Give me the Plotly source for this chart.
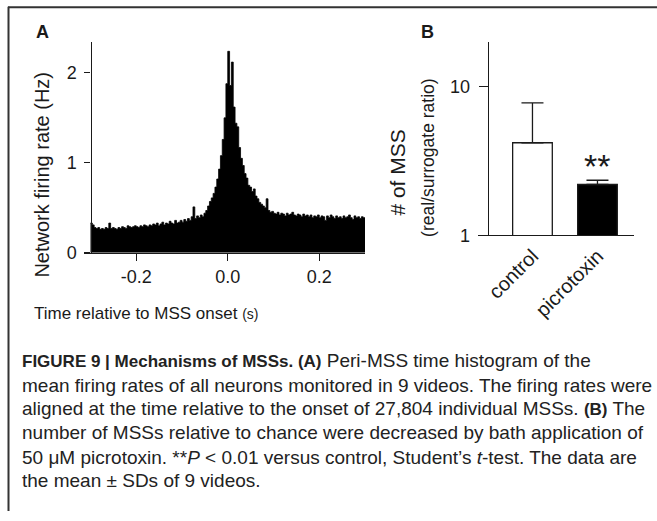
import plotly.graph_objects as go

W, H = 657, 521

# ---- Panel A: peri-MSS time histogram (4 ms bins from -0.3 s to 0.3 s) ----
bin_start = -0.3
bin_width = 0.004
firing_rate_hz = [
    0.33, 0.31, 0.28, 0.27, 0.28, 0.26, 0.27, 0.26, 0.28, 0.27,
    0.33, 0.27, 0.28, 0.27, 0.26, 0.28, 0.27, 0.29, 0.28, 0.27,
    0.30, 0.29, 0.28, 0.29, 0.30, 0.29, 0.28, 0.30, 0.29, 0.31,
    0.30, 0.29, 0.31, 0.30, 0.32, 0.31, 0.33, 0.30, 0.32, 0.34,
    0.31, 0.33, 0.32, 0.35, 0.33, 0.32, 0.36, 0.33, 0.34, 0.36,
    0.34, 0.37, 0.35, 0.38, 0.36, 0.40, 0.51, 0.38, 0.41, 0.39,
    0.42, 0.40, 0.44, 0.47, 0.52, 0.57, 0.61, 0.66, 0.73, 0.82,
    0.93, 1.08, 1.26, 1.50, 1.88, 2.24, 1.86, 2.12, 1.62, 1.44,
    1.40, 1.17, 1.05, 0.97, 0.88, 0.83, 0.75, 0.73, 0.68, 0.71,
    0.63, 0.60, 0.56, 0.54, 0.52, 0.50, 0.60, 0.47, 0.45, 0.46,
    0.44, 0.43, 0.45, 0.42, 0.44, 0.43, 0.41, 0.44, 0.42, 0.43,
    0.45, 0.42, 0.41, 0.43, 0.42, 0.40, 0.43, 0.41, 0.42, 0.40,
    0.42, 0.39, 0.41, 0.40, 0.42, 0.39, 0.41, 0.40, 0.36, 0.41,
    0.39, 0.42, 0.40, 0.38, 0.41, 0.39, 0.40, 0.38, 0.41, 0.39,
    0.40, 0.42, 0.39, 0.37, 0.41, 0.39, 0.40, 0.38, 0.40, 0.39,
]
a_xticks = [-0.2, 0.0, 0.2]
a_xticklabels = ["-0.2", "0.0", "0.2"]
a_yticks = [0, 1, 2]

# ---- Panel B: number of MSS relative to surrogate ----
conditions = ["control", "picrotoxin"]
mss_ratio_mean = [4.2, 2.2]
mss_ratio_sd = [3.6, 0.15]
b_yticks = [1, 10]

INK = "#1a1a1a"
FONT = "Liberation Sans, Arial, sans-serif"

# histogram drawn as a filled step outline (bin edges, last bin closed)
n_bins = len(firing_rate_hz)
bin_edges = [bin_start + bin_width * i for i in range(n_bins + 1)]
step_y = firing_rate_hz + [firing_rate_hz[-1]]


def px(x):
    return x / W


def py(y):
    return 1 - y / H


fig = go.Figure()

fig.add_trace(go.Scatter(
    x=bin_edges, y=step_y, mode="lines", line=dict(shape="hv", color="black", width=0.8),
    fill="tozeroy", fillcolor="black",
    xaxis="x", yaxis="y", showlegend=False, hoverinfo="skip",
))

fig.add_trace(go.Bar(
    x=[0, 1], y=mss_ratio_mean, width=0.61,
    marker=dict(color=["white", "black"], line=dict(color=INK, width=1.3)),
    error_y=dict(type="data", array=mss_ratio_sd, arrayminus=[0, 0],
                 symmetric=False, width=11, thickness=1.3, color=INK),
    xaxis="x2", yaxis="y2", showlegend=False,
))

tickfont = dict(family=FONT, size=18, color=INK)

fig.update_layout(
    width=W, height=H,
    margin=dict(l=0, r=0, t=0, b=0),
    paper_bgcolor="white", plot_bgcolor="rgba(0,0,0,0)",
    xaxis=dict(
        domain=[px(84), px(365)], range=[-0.3142, 0.3], anchor="y",
        tickvals=a_xticks, ticktext=a_xticklabels,
        ticks="outside", ticklen=7, tickwidth=1.2, tickcolor=INK,
        showline=True, linecolor=INK, linewidth=1.3,
        showgrid=False, zeroline=False, tickfont=tickfont,
    ),
    yaxis=dict(
        domain=[py(257.7), py(42.7)], range=[0, 2.345],
        anchor="free", position=px(90.5),
        tickvals=a_yticks, ticks="outside", ticklen=6, tickwidth=1.2,
        tickcolor=INK, showline=True, linecolor=INK, linewidth=1.3,
        showgrid=False, zeroline=False, tickfont=tickfont,
        ticklabelstandoff=4,
    ),
    xaxis2=dict(
        domain=[px(478), px(634)], range=[-0.838, 1.562], anchor="y2",
        tickvals=[0, 1], ticktext=conditions, tickangle=-45, ticks="",
        showline=True, linecolor=INK, linewidth=1.3,
        showgrid=False, zeroline=False, tickfont=dict(family=FONT, size=20, color=INK),
    ),
    yaxis2=dict(
        domain=[py(240), py(43)], type="log", range=[0, 1.3],
        anchor="free", position=px(487.7),
        tickvals=b_yticks, ticktext=["1", "10"],
        ticks="outside", ticklen=9, tickwidth=1.2, tickcolor=INK,
        showline=True, linecolor=INK, linewidth=1.3,
        showgrid=False, zeroline=False, tickfont=tickfont,
        ticklabelstandoff=5,
    ),
)

ann = []
# panel letters
ann.append(dict(x=px(42), y=py(33), text="<b>A</b>", font=dict(family=FONT, size=18, color=INK)))
ann.append(dict(x=px(427), y=py(33), text="<b>B</b>", font=dict(family=FONT, size=18, color=INK)))
# axis titles
ann.append(dict(x=px(42), y=py(178), text="Network firing rate (Hz)", textangle=-90,
                font=dict(family=FONT, size=20, color=INK)))
ann.append(dict(x=px(146), y=py(320),
                text="Time relative to MSS onset <span style='font-size:14px'>(s)</span>",
                font=dict(family=FONT, size=17, color=INK)))
ann.append(dict(x=px(398), y=py(176), text="# of MSS", textangle=-90,
                font=dict(family=FONT, size=21, color=INK)))
ann.append(dict(x=px(428), y=py(161), text="(real/surrogate ratio)", textangle=-90,
                font=dict(family=FONT, size=17.5, color=INK)))
# significance marker
ann.append(dict(x=1, y=0.47, xref="x2", yref="y2", text="**",
                font=dict(family=FONT, size=34, color=INK)))

BOLD = "<span style='font-size:17px'><b>{}</b></span>"
caption = [
    BOLD.format("FIGURE 9 | Mechanisms of MSSs. (A)") + " Peri-MSS time histogram of the",
    "mean firing rates of all neurons monitored in 9 videos. The firing rates were",
    "aligned at the time relative to the onset of 27,804 individual MSSs. " + BOLD.format("(B)") + " The",
    "number of MSSs relative to chance were decreased by bath application of",
    "50 μM picrotoxin. **<i>P</i> &lt; 0.01 versus control, Student’s <i>t</i>-test. The data are",
    "the mean ± SDs of 9 videos.",
]
cap_y = [368, 393, 417, 441, 466, 490]
for line, yy in zip(caption, cap_y):
    ann.append(dict(x=px(20), y=py(yy), text=line, xanchor="left",
                    font=dict(family=FONT, size=19, color="#222")))

for a in ann:
    a.setdefault("xref", "paper")
    a.setdefault("yref", "paper")
    a.setdefault("xanchor", "center")
    a.setdefault("yanchor", "middle")
    a["showarrow"] = False
fig.update_layout(annotations=ann)

# figure frame (top and left edges)
fig.update_layout(shapes=[
    dict(type="line", xref="paper", yref="paper", x0=px(8), x1=1, y0=py(7.5), y1=py(7.5),
         line=dict(color="#333", width=2)),
    dict(type="line", xref="paper", yref="paper", x0=px(8.5), x1=px(8.5), y0=py(7), y1=0,
         line=dict(color="#333", width=2)),
])

fig.write_html("out.html")
